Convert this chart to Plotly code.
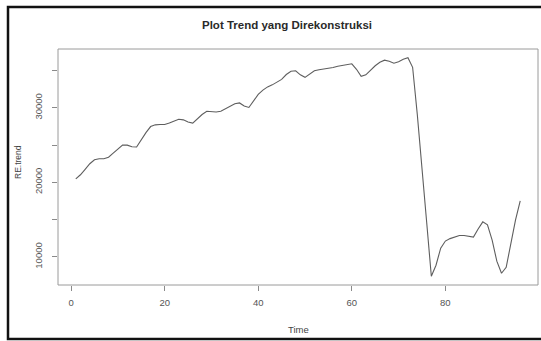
import plotly.graph_objects as go

# Reconstructed trend, monthly index 1..96
time = list(range(1, 97))
trend = [
    20470, 21010, 21750, 22490, 23030, 23170, 23170, 23370, 23910, 24450,
    24990, 24990, 24780, 24740, 25730, 26670, 27480, 27710, 27750, 27750,
    27950, 28220, 28460, 28380, 28090, 27950, 28560, 29100, 29540, 29460,
    29430, 29530, 29840, 30230, 30540, 30650, 30240, 30040, 30850, 31790,
    32360, 32800, 33070, 33410, 33810, 34460, 34890, 34960, 34420, 34080,
    34490, 34960, 35090, 35160, 35300, 35390, 35570, 35700, 35840, 35900,
    35160, 34220, 34420, 35030, 35630, 36100, 36380, 36240, 35970, 36170,
    36510, 36710, 35430, 29100, 21420, 14680, 7400, 8880, 11170, 12120,
    12450, 12660, 12860, 12860, 12720, 12660, 13730, 14700, 14300, 12250,
    9420, 7800, 8610, 11980, 14950, 17510,
]

x_ticks = [0, 20, 40, 60, 80]
y_ticks = [10000, 15000, 20000, 25000, 30000, 35000]
y_ticktext = ["10000", "", "20000", "", "30000", ""]

title_text = "Plot Trend yang Direkonstruksi"
x_title = "Time"
y_title = "RE.trend"


def padded(lo, hi, frac=0.04):
    span = hi - lo
    return [lo - frac * span, hi + frac * span]


W, H = 541, 341
L, R, T, B = 58, 3, 49, 56
pw, ph = W - L - R, H - T - B

font_family = "Liberation Sans, Arial, sans-serif"

fig = go.Figure()
fig.add_trace(go.Scatter(
    x=time, y=trend, mode="lines",
    line=dict(color="#5e5e5e", width=1.1),
    showlegend=False, hoverinfo="skip",
))

axis_common = dict(
    showgrid=False, zeroline=False, showline=False,
    ticks="outside", ticklen=5, tickwidth=1, tickcolor="#8a8a8a",
    tickfont=dict(family=font_family, size=9.5, color="#555555"),
)

fig.update_xaxes(range=padded(min(time), max(time)), tickvals=x_ticks,
                 ticklabelstandoff=4, **axis_common)
fig.update_yaxes(range=padded(min(trend), max(trend)), tickvals=y_ticks,
                 ticktext=y_ticktext, tickangle=-90,
                 ticklabelstandoff=6, **axis_common)


def px_to_paper_x(px):
    return (px - L) / pw


def px_to_paper_y(py):
    return (H - B - py) / ph


shapes = [
    # plot region box
    dict(type="rect", xref="paper", yref="paper", x0=0, x1=1, y0=0, y1=1,
         line=dict(color="#9a9a9a", width=1)),
    # outer frame
    dict(type="rect", xref="paper", yref="paper",
         x0=px_to_paper_x(8), x1=px_to_paper_x(W + 6),
         y0=px_to_paper_y(339), y1=px_to_paper_y(7),
         line=dict(color="#111111", width=2.5)),
]

annotations = [
    dict(text="<b>" + title_text + "</b>", xref="paper", yref="paper",
         x=px_to_paper_x(287), y=px_to_paper_y(25), showarrow=False,
         xanchor="center", yanchor="middle",
         font=dict(family=font_family, size=11.5, color="#2a2a2a")),
    dict(text=x_title, xref="paper", yref="paper",
         x=px_to_paper_x(298), y=px_to_paper_y(329), showarrow=False,
         xanchor="center", yanchor="middle",
         font=dict(family=font_family, size=9.5, color="#444444")),
    dict(text=y_title, xref="paper", yref="paper", textangle=-90,
         x=px_to_paper_x(18), y=px_to_paper_y(162), showarrow=False,
         xanchor="center", yanchor="middle",
         font=dict(family=font_family, size=8.5, color="#444444")),
]

fig.update_layout(
    width=W, height=H,
    margin=dict(l=L, r=R, t=T, b=B, pad=0),
    paper_bgcolor="white", plot_bgcolor="white",
    shapes=shapes, annotations=annotations,
)

fig.write_html("out.html")
